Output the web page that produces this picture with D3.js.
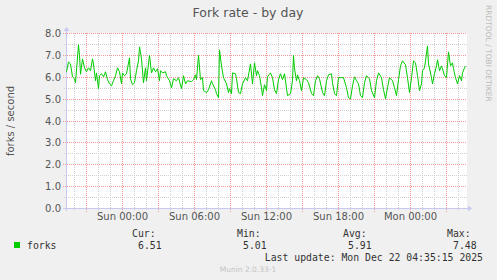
<!DOCTYPE html>
<html>
<head>
<meta charset="utf-8">
<script src="https://cdn.jsdelivr.net/npm/d3@7"></script>
<style>
  body { margin: 0; background: #f0f0f0; }
  svg { display: block; }
</style>
</head>
<body>
<svg></svg>
<script>
// minutes after start (Sat 19:20 UTC)
var minutes = [0, 10, 20, 30, 40, 45, 60, 65, 70, 80, 90, 100, 110, 120, 130, 135, 145, 150, 160, 165,
  175, 185, 195, 205, 215, 225, 235, 245, 255, 265, 275, 280, 290, 300, 315, 320, 330, 340, 350, 360,
  365, 375, 385, 395, 400, 415, 425, 435, 445, 455, 465, 470, 480, 495, 500, 515, 525, 535, 550, 560,
  575, 585, 595, 605, 625, 635, 645, 650, 660, 670, 680, 685, 700, 710, 725, 730, 745, 750, 760, 765,
  775, 785, 800, 810, 815, 825, 830, 845, 850, 860, 870, 880, 895, 905, 920, 930, 940, 950, 955, 965,
  975, 980, 990, 1000, 1005, 1020, 1030, 1040, 1050, 1060, 1070, 1080, 1090, 1105, 1120, 1130, 1135, 1140, 1150, 1155,
  1165, 1175, 1185, 1200, 1210, 1225, 1235, 1245, 1255, 1265, 1280, 1290, 1300, 1310, 1325, 1330, 1340, 1350, 1360, 1375,
  1385, 1400, 1410, 1420, 1430, 1440, 1450, 1460, 1470, 1480, 1490, 1500, 1515, 1525, 1540, 1550, 1560, 1575, 1585, 1595,
  1605, 1615, 1630, 1640, 1650, 1660, 1670, 1680, 1695, 1705, 1715, 1725, 1735, 1745, 1755, 1765, 1775, 1780, 1790, 1795,
  1805, 1810, 1825, 1830, 1840, 1850, 1855, 1865, 1875, 1880, 1890, 1900, 1910, 1920, 1930, 1935, 1945, 1955, 1965, 1975,
  1980, 1990, 1995];
var forks = [6.25, 6.70, 6.61, 6.02, 5.93, 5.75, 7.48, 7.00, 6.14, 6.84, 6.43, 6.25, 6.43, 6.30, 6.84, 6.61, 5.84, 6.20, 5.48, 6.07,
  6.16, 6.02, 6.25, 5.89, 5.70, 5.61, 5.84, 6.07, 6.43, 6.25, 5.70, 6.20, 6.07, 6.16, 6.89, 5.93, 5.66, 5.75, 6.30, 6.75,
  7.39, 6.84, 5.75, 6.43, 5.84, 7.00, 6.20, 6.43, 6.25, 6.39, 5.84, 6.30, 6.20, 6.25, 6.07, 5.84, 5.52, 5.93, 5.84, 5.98,
  5.48, 6.07, 5.70, 5.84, 5.80, 5.89, 6.11, 5.89, 7.00, 5.89, 5.98, 5.39, 5.30, 5.43, 5.84, 5.70, 5.43, 5.25, 5.07, 7.25,
  6.52, 5.98, 5.70, 5.30, 5.48, 5.25, 6.20, 6.16, 5.93, 5.30, 5.25, 5.70, 5.98, 5.84, 6.61, 5.70, 6.66, 6.07, 6.30, 6.07,
  5.52, 5.16, 5.66, 5.39, 6.02, 6.20, 5.98, 5.43, 5.25, 5.89, 6.16, 5.89, 6.16, 5.16, 5.25, 5.84, 7.00, 6.39, 5.84, 6.11,
  5.84, 5.39, 5.98, 5.89, 5.75, 5.25, 5.16, 5.84, 6.07, 5.93, 5.30, 5.16, 5.84, 6.11, 6.16, 5.75, 5.25, 5.16, 5.98, 5.98,
  5.98, 5.52, 5.07, 5.01, 5.61, 6.02, 5.84, 5.70, 5.16, 5.07, 5.75, 6.07, 5.93, 5.39, 5.07, 5.84, 6.20, 5.98, 5.43, 5.02,
  5.52, 5.98, 5.84, 5.52, 5.16, 5.89, 6.52, 6.75, 6.57, 5.98, 5.30, 5.98, 6.75, 6.66, 6.07, 5.39, 5.70, 6.30, 6.43, 6.75,
  7.43, 6.61, 5.98, 5.70, 6.16, 6.52, 6.80, 6.30, 6.52, 6.39, 6.07, 5.98, 7.16, 6.52, 6.66, 6.39, 5.98, 5.70, 6.07, 5.84,
  6.20, 6.43, 6.51];
var yTicks = [0, 1, 2, 3, 4, 5, 6, 7, 8];
var legendHeads = ["Cur:", "Min:", "Avg:", "Max:"];
var legendVals = ["6.51", "5.01", "5.91", "7.48"];

var width = 497, height = 280;
var start = Date.UTC(2025, 11, 20, 19, 20);
var end = start + 2000 * 60000;

var svg = d3.select('svg').attr('width', width).attr('height', height)
  .style('font-family', 'DejaVu Sans');

var x = d3.scaleUtc().domain([start, end]).range([66.5, 466.5]);
var y = d3.scaleLinear().domain([0, 8]).range([208.5, 33.5]);

svg.append('rect').attr('width', width).attr('height', height).attr('fill', '#f0f0f0');
svg.append('rect').attr('x', 67).attr('y', 33).attr('width', 400).attr('height', 176).attr('fill', '#fff');

// minor grid
var hours = d3.utcHour.every(1).range(new Date(start), new Date(end));
svg.selectAll('.vmin').data(hours).enter().append('line')
  .attr('x1', function(d) { return Math.floor(x(d)) + 0.5; })
  .attr('x2', function(d) { return Math.floor(x(d)) + 0.5; })
  .attr('y1', 33).attr('y2', 211)
  .attr('stroke', '#cfcfcf').attr('stroke-dasharray', '1,1');
svg.selectAll('.hmin').data(d3.range(0.5, 8, 1)).enter().append('line')
  .attr('x1', 64).attr('x2', 467)
  .attr('y1', function(d) { return Math.floor(y(d)) + 0.5; })
  .attr('y2', function(d) { return Math.floor(y(d)) + 0.5; })
  .attr('stroke', '#cfcfcf').attr('stroke-dasharray', '1,1');

// major grid
var threeH = d3.utcHour.every(3).range(new Date(start), new Date(end));
svg.selectAll('.vmaj').data(threeH).enter().append('line')
  .attr('x1', function(d) { return Math.floor(x(d)) + 0.5; })
  .attr('x2', function(d) { return Math.floor(x(d)) + 0.5; })
  .attr('y1', 33).attr('y2', 212)
  .attr('stroke', '#f59a9a').attr('stroke-dasharray', '1,1');
svg.selectAll('.hmaj').data(yTicks).enter().append('line')
  .attr('x1', 63).attr('x2', 467)
  .attr('y1', function(d) { return Math.floor(y(d)) + 0.5; })
  .attr('y2', function(d) { return Math.floor(y(d)) + 0.5; })
  .attr('stroke', '#f59a9a').attr('stroke-dasharray', '1,1');

// axes with arrows
svg.append('line').attr('x1', 63).attr('x2', 469).attr('y1', 208.5).attr('y2', 208.5).attr('stroke', '#c8c8f0');
svg.append('path').attr('d', 'M468,205.5 L472,208.5 L468,211.5 Z').attr('fill', '#c8c8f0');
svg.append('line').attr('x1', 66.5).attr('x2', 66.5).attr('y1', 211).attr('y2', 30).attr('stroke', '#c8c8f0');
svg.append('path').attr('d', 'M63.5,31 L66.5,27 L69.5,31 Z').attr('fill', '#c8c8f0');

// y labels
svg.selectAll('.ylab').data(yTicks).enter().append('text')
  .attr('x', 61).attr('y', function(d) { return y(d) + 3.5; })
  .attr('text-anchor', 'end').attr('font-size', 10).attr('fill', '#555')
  .text(function(d) { return d.toFixed(1); });

// x labels
var sixH = d3.utcHour.every(6).range(new Date(start), new Date(end));
var fmt = d3.utcFormat('%a %H:%M');
svg.selectAll('.xlab').data(sixH).enter().append('text')
  .attr('x', function(d) { return x(d); }).attr('y', 220)
  .attr('text-anchor', 'middle').attr('font-size', 10).attr('fill', '#555')
  .text(function(d) { return fmt(d); });

// data line
var line = d3.line()
  .x(function(d, i) { return x(start + minutes[i] * 60000); })
  .y(function(d) { return y(d); });
svg.append('path').datum(forks).attr('d', line)
  .attr('fill', 'none').attr('stroke', '#00cc00').attr('stroke-width', 1);

// titles
svg.append('text').attr('x', 248).attr('y', 17).attr('text-anchor', 'middle')
  .attr('font-size', 12.5).attr('fill', '#555').text('Fork rate - by day');
svg.append('text').attr('transform', 'translate(14,121) rotate(-90)')
  .attr('text-anchor', 'middle').attr('font-size', 10).attr('fill', '#555').text('forks / second');
svg.append('text').attr('transform', 'translate(486,5) rotate(90)')
  .attr('font-size', 7.5).attr('fill', '#bbb').text('RRDTOOL / TOBI OETIKER');

// legend
var mono = 'DejaVu Sans Mono';
svg.append('rect').attr('x', 14).attr('y', 242).attr('width', 6).attr('height', 6).attr('fill', '#00cc00');
svg.append('text').attr('x', 27).attr('y', 248.5).attr('font-family', mono)
  .attr('font-size', 9.8).attr('fill', '#333').text('forks');
var headX = [132, 237, 343, 447];
var valX = [138, 243, 348, 453];
svg.selectAll('.lh').data(legendHeads).enter().append('text')
  .attr('x', function(d, i) { return headX[i]; }).attr('y', 237)
  .attr('font-family', mono).attr('font-size', 9.8).attr('fill', '#333').text(function(d) { return d; });
svg.selectAll('.lv').data(legendVals).enter().append('text')
  .attr('x', function(d, i) { return valX[i]; }).attr('y', 248.5)
  .attr('font-family', mono).attr('font-size', 9.8).attr('fill', '#333').text(function(d) { return d; });
svg.append('text').attr('x', 483).attr('y', 261).attr('text-anchor', 'end')
  .attr('font-family', mono).attr('font-size', 9.8).attr('fill', '#333')
  .text('Last update: Mon Dec 22 04:35:15 2025');
svg.append('text').attr('x', 248).attr('y', 272).attr('text-anchor', 'middle')
  .attr('font-size', 7.5).attr('fill', '#c4c4c4').text('Munin 2.0.33-1');
</script>
</body>
</html>
